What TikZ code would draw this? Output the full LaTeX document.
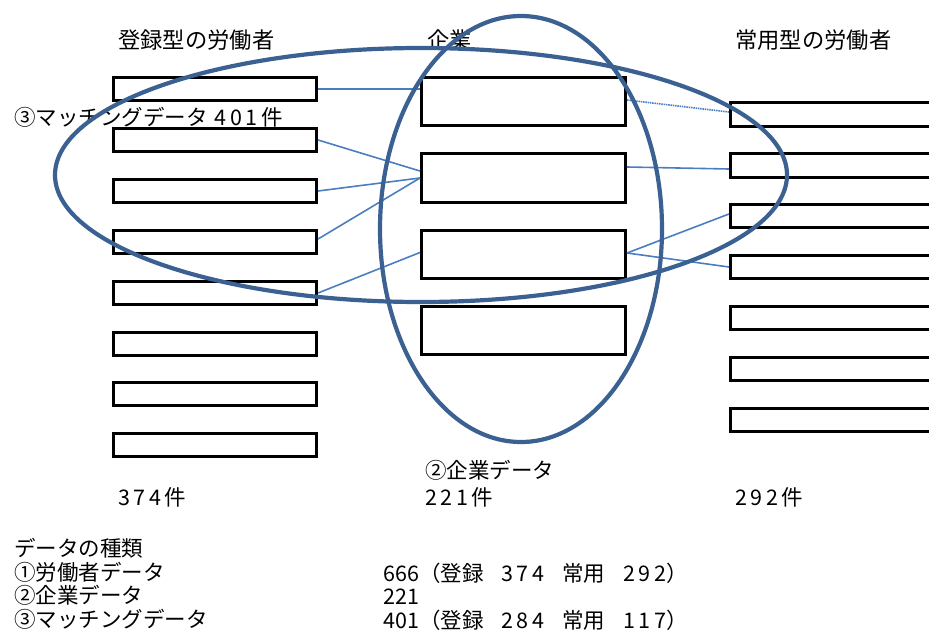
\documentclass[tikz,border=0pt]{standalone}
\usepackage{fontspec}
\setmainfont{Noto Sans CJK JP}
\definecolor{ellc}{HTML}{3A6191}
\definecolor{conc}{HTML}{4A7EC1}
\begin{document}
\begin{tikzpicture}[x=1pt,y=-1pt,
  lbox/.style={draw=black,line width=2.6pt,minimum width=203.5pt,minimum height=23pt,inner sep=0pt},
  mbox/.style={draw=black,line width=2.6pt,minimum width=204.5pt,minimum height=48.5pt,inner sep=0pt},
  rbox/.style={draw=black,line width=2.6pt,minimum width=204.5pt,minimum height=23.5pt,inner sep=0pt},
  txt/.style={anchor=west,inner sep=0pt,font=\fontsize{21.5pt}{24pt}\selectfont},
  ttl/.style={anchor=west,inner sep=0pt,font=\fontsize{22.3pt}{24pt}\selectfont},
  conn/.style={draw=conc,line width=1.6pt},
  dconn/.style={draw=conc,line width=1.6pt,dash pattern=on 1.5pt off 0.8pt},
  ell/.style={draw=ellc,line width=4.2pt}]
\clip (0,0) rectangle (929,632);

% titles
\node[ttl] (tl) at (118,40) {登録型の労働者};
\node[ttl] (tm) at (427,40) {企業};
\node[ttl] (tr) at (735,40) {常用型の労働者};

% left boxes
\node[lbox] (l1) at (215,89) {};
\node[lbox] (l2) at (215,140) {};
\node[lbox] (l3) at (215,191) {};
\node[lbox] (l4) at (215,242) {};
\node[lbox] (l5) at (215,293) {};
\node[lbox] (l6) at (215,344) {};
\node[lbox] (l7) at (215,394) {};
\node[lbox] (l8) at (215,445) {};

% middle boxes
\node[mbox] (m1) at (523.5,101.5) {};
\node[mbox] (m2) at (523.5,178) {};
\node[mbox] (m3) at (523.5,254.5) {};
\node[mbox] (m4) at (523.5,330.5) {};

% right boxes
\node[rbox] (r1) at (832.5,114.5) {};
\node[rbox] (r2) at (832.5,165.5) {};
\node[rbox] (r3) at (832.5,216) {};
\node[rbox] (r4) at (832.5,267) {};
\node[rbox] (r5) at (832.5,318) {};
\node[rbox] (r6) at (832.5,369) {};
\node[rbox] (r7) at (832.5,420) {};

% connectors
\draw[conn] (l1.east) -- (l1.east -| m1.west);
\draw[conn] (l2.east) -- ([yshift=7pt]m2.west);
\draw[conn] (l3.east) -- (m2.west);
\draw[conn] ([yshift=3pt]l4.east) -- (m2.west);
\draw[conn] (l5.east) -- ([yshift=2pt]m3.west);
\draw[dconn] ([yshift=1.5pt]m1.east) -- ([yshift=2.5pt]r1.west);
\draw[conn] ([yshift=11pt]m2.east) -- ([yshift=-3.5pt]r2.west);
\draw[conn] ([yshift=1.5pt]m3.east) -- ([yshift=2pt]r3.west);
\draw[conn] ([yshift=1.5pt]m3.east) -- (r4.west);

% labels
\node[txt] (match) at (14,117) {③マッチングデータ\hspace{7pt}4\,0\,1\,件};
\node[txt] (kdata) at (425,470) {②企業データ};
\node[txt] (n221) at (425,497) {2\,2\,1\,件};
\node[txt] (n374) at (118,497) {3\,7\,4\,件};
\node[txt] (n292) at (735,497) {2\,9\,2\,件};

% bottom legend
\node[txt] (b0) at (14,548) {データの種類};
\node[txt] (b1) at (14,572) {①労働者データ};
\node[txt] (b2) at (14,595) {②企業データ};
\node[txt] (b3) at (14,619) {③マッチングデータ};
\node[txt] (v1) at (383,573) {666（登録\hspace{18pt}3\,7\,4\hspace{18pt}常用\hspace{18pt}2\,9\,2）};
\node[txt] (v2) at (383,597) {221};
\node[txt] (v3) at (383,620) {401（登録\hspace{18pt}2\,8\,4\hspace{18pt}常用\hspace{18pt}1\,1\,7）};

% ellipses
\draw[ell] (421,175) ellipse [x radius=366pt, y radius=127pt];
\draw[ell] (521,229) ellipse [x radius=141pt, y radius=213pt];
\end{tikzpicture}
\end{document}
